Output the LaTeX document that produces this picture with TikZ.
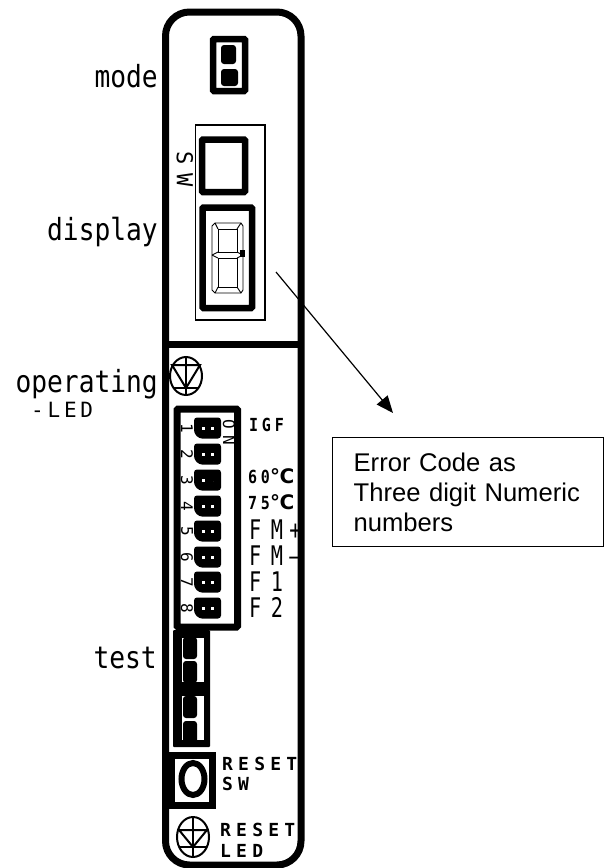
\documentclass[tikz,border=0pt]{standalone}
\usepackage{graphicx}
\usepackage{fontspec}
\usetikzlibrary{arrows.meta}
\setmainfont{Liberation Sans}
\newfontfamily\cadlabel{DejaVu Sans Mono}
\newfontfamily\cadspaced[LetterSpace=18]{DejaVu Sans Mono}
\newfontfamily\cadwide[LetterSpace=40]{DejaVu Sans Mono}
\newfontfamily\cadfm[LetterSpace=31,WordSpace=0.52]{DejaVu Sans Mono}
\newfontfamily\cadreset[LetterSpace=29,BoldFont={DejaVu Sans Mono Bold}]{DejaVu Sans Mono}
\newfontfamily\cadsmall[LetterSpace=25,BoldFont={DejaVu Sans Mono Bold}]{DejaVu Sans Mono}
\newfontfamily\cadsign{DejaVu Sans}
\newcommand{\tallt}[1]{\scalebox{1.05}[1.22]{#1}}
\newcommand{\talls}[1]{\scalebox{1}[1.2]{#1}}
\newcommand{\narrowt}[1]{\scalebox{.75}[1]{#1}}
\tikzset{
  x=1pt,y=-1pt,
  lbl/.style={inner sep=0pt,anchor=base east,font=\cadlabel\fontsize{25}{25}\selectfont},
  fmlbl/.style={inner sep=0pt,anchor=base west,font=\cadfm\fontsize{27}{27}\selectfont},
  tinylbl/.style={inner sep=0pt,anchor=base west,font=\cadsmall\bfseries\fontsize{15}{15}\selectfont},
  resetlbl/.style={inner sep=0pt,anchor=base west,font=\cadreset\bfseries\fontsize{18}{18}\selectfont},
  dipnum/.style={inner sep=0pt,rotate=-90,font=\cadlabel\fontsize{16}{16}\selectfont},
  frameline/.style={draw=black,line width=7pt},
  blackbox/.style={draw=black,line width=6.5pt,fill=white,rounded corners=1pt},
  blob/.style={fill=black,rounded corners=3pt},
  dot/.style={fill=white},
  segline/.style={draw=black,line width=.9pt},
  ledline/.style={draw=black,line width=2pt}
}
\newcommand{\dipblob}[2]{%
  \fill[blob] (194,#2-10.5) -- (221,#2-10.5) -- (221,#2+10.5) -- (199,#2+10.5) -- (194,#2+5) -- cycle;
  \fill[dot] (202,#2-1.5) rectangle +(3,3);
  #1
}
\newcommand{\ledsym}[6]{% cx cy rx ry top apex
  \draw[ledline] (#1,#2) ellipse [x radius=#3,y radius=#4];
  \draw[ledline] (#1,#2-#4) -- (#1,#2+#4);
  \draw[ledline] (#1-#3+2,#5) -- (#1+#3-2,#5) -- (#1,#6) -- cycle;
  \draw[ledline] (#1-#3+3,#6) -- (#1+#3-3,#6);
}
\begin{document}
\begin{tikzpicture}
\useasboundingbox (0,0) rectangle (604,868);
% panel
\draw[frameline,rounded corners=24pt] (165.5,12) rectangle (301,865);
\draw[frameline] (165.5,344) -- (301,344);
% mode switch
\draw[blackbox] (213,39) rectangle (245,91);
\fill[blob] (221,45) rectangle (236,64);
\fill[blob] (221,69) rectangle (238,86);
% display window
\draw[draw=black,line width=1.5pt] (195.5,125) rectangle (265,320);
\draw[blackbox] (202,139.5) rectangle (245,192);
\draw[blackbox] (202.5,207.5) rectangle (252,308);
% seven segments
\draw[segline] (215,223) -- (241,223) -- (243,226) -- (243,290) -- (241,293) -- (215,293) -- (212,290) -- (212,226) -- cycle;
\draw[segline] (218,229) rectangle (237,252);
\draw[segline] (218,258) rectangle (237,287);
\draw[segline] (215,223) -- (218,229) (241,223) -- (237,229) (215,293) -- (218,287) (241,293) -- (237,287)
  (212,255) -- (218,252) (212,255) -- (218,258) (243,255) -- (237,252) (243,255) -- (237,258);
\fill (240,250) rectangle (245,257);
% labels left
\node[lbl] (mode) at (158,87) {\tallt{mode}};
\node[lbl] (display) at (158,240) {\tallt{display}};
\node[lbl] (operating) at (158,392) {\tallt{operating}};
\node[inner sep=0pt,anchor=base west,font=\cadspaced\fontsize{21}{21}\selectfont] (led) at (31,417) {-LED};
\node[lbl] (test) at (157,668) {\tallt{test}};
\node[inner sep=0pt,rotate=-90,font=\cadwide\fontsize{22}{22}\selectfont] (sw) at (185,169) {SW};
% operating LED
\ledsym{186}{376}{16}{19}{365}{388}
% DIP switch
\draw[frameline,line width=7pt,rounded corners=1pt] (177,409) rectangle (237.5,627);
\foreach \yy/\nn in {428/1,454/2,480/3,506/4,531/5,557/6,582/7,608/8}{
  \dipblob{\fill[dot] (211,\yy-1.5) rectangle +(3,3);}{\yy}
  \node[dipnum] (dip\nn) at (187,\yy) {\nn};
}
\fill[blob] (208,478) rectangle (216,482);
\node[inner sep=0pt,rotate=-90,font=\cadwide\fontsize{16}{16}\selectfont] (on) at (229,432) {ON};
% DIP labels
\node[tinylbl] (igf) at (249,431) {\talls{IGF}};
\node[tinylbl] (t60) at (248,483) {\talls{60}{\cadsign\fontsize{20}{20}\selectfont\bfseries ℃}};
\node[tinylbl] (t75) at (248,509) {\talls{75}{\cadsign\fontsize{20}{20}\selectfont\bfseries ℃}};
\node[fmlbl] (fmp) at (249,539) {\narrowt{F M+}};
\node[fmlbl] (fmm) at (249,565) {\narrowt{F M–}};
\node[fmlbl] (f1) at (249,591) {\narrowt{F 1}};
\node[fmlbl] (f2) at (249,617) {\narrowt{F 2}};
% test block
\fill[rounded corners=1pt] (173,630) rectangle (210,747);
\fill[white] (182,638) rectangle (204,682);
\fill[white] (182,696) rectangle (204,740);
\foreach \yy in {648,672,707,732}{ \fill[blob] (183,\yy-11) rectangle (197,\yy+11); }
% reset switch
\draw[draw=black,line width=7pt,fill=white] (171,755) rectangle (212.5,805);
\draw[draw=black,line width=6pt] (193,779) ellipse [x radius=11.5,y radius=16];
\node[resetlbl] (rsw) at (222,770) {RESET};
\node[resetlbl] (swl) at (222,790) {SW};
% reset LED
\ledsym{193}{837}{16}{20}{830}{847}
\node[resetlbl] (rled) at (220,836) {RESET};
\node[resetlbl] (lled) at (220,857) {LED};
% error code callout
\node[draw=black,line width=1.3pt,anchor=north west,inner xsep=21pt,inner ysep=0pt,minimum height=109pt,
  text width=229pt,align=left,font=\fontsize{25.6}{30}\selectfont] (err) at (332,437)
  {Error Code as\\Three digit Numeric\\numbers};
\coordinate (errstart) at (276,272);
\coordinate (errtip) at (393,413);
\draw[-{Triangle[length=17pt,width=14pt]},line width=1.2pt] (errstart) -- (errtip);
\end{tikzpicture}
\end{document}
